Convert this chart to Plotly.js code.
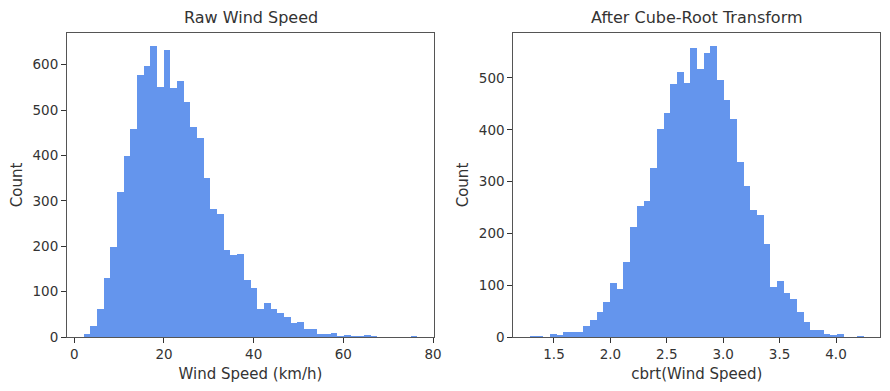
<!DOCTYPE html>
<html>
<head>
<meta charset="utf-8">
<script src="https://cdn.plot.ly/plotly-3.0.1.min.js"></script>
<style>html,body{margin:0;padding:0;background:#fff;}#chart{width:890px;height:391px;}</style>
</head>
<body>
<div id="chart"></div>
<script>
// Raw wind speed histogram (50 bins)
const rawBinStart = 2.09;
const rawBinWidth = 1.4882;
const rawCounts = [7, 25, 62, 130, 198, 319, 398, 458, 577, 596,
  640, 550, 632, 548, 563, 518, 462, 438, 350, 282,
  271, 191, 180, 183, 125, 108, 62, 75, 62, 53,
  44, 31, 33, 18, 18, 7, 7, 9, 2, 4,
  2, 2, 4, 2, 0, 0, 0, 0, 0, 2];

// Cube-root transformed histogram (50 bins)
const cbrtBinStart = 1.288;
const cbrtBinWidth = 0.05915;
const cbrtCounts = [2, 2, 0, 6, 4, 10, 10, 10, 21, 33,
  48, 67, 104, 93, 145, 212, 253, 262, 326, 401,
  432, 488, 511, 490, 557, 517, 548, 561, 496, 457,
  420, 337, 291, 245, 235, 179, 96, 108, 85, 73,
  48, 29, 13, 13, 6, 4, 6, 0, 0, 2];

const rawTicks = [0, 20, 40, 60, 80];
const cbrtTicks = [1.5, 2.0, 2.5, 3.0, 3.5, 4.0];
const rawYTicks = [0, 100, 200, 300, 400, 500, 600];
const cbrtYTicks = [0, 100, 200, 300, 400, 500];

function centers(start, width, n) {
  const c = [];
  for (let i = 0; i < n; i++) c.push(start + (i + 0.5) * width);
  return c;
}

const barColor = '#6495ED';
const traces = [
  {type: 'bar', x: centers(rawBinStart, rawBinWidth, rawCounts.length), y: rawCounts,
   width: rawBinWidth, marker: {color: barColor, line: {width: 0}}, xaxis: 'x', yaxis: 'y', hoverinfo: 'x+y'},
  {type: 'bar', x: centers(cbrtBinStart, cbrtBinWidth, cbrtCounts.length), y: cbrtCounts,
   width: cbrtBinWidth, marker: {color: barColor, line: {width: 0}}, xaxis: 'x2', yaxis: 'y2', hoverinfo: 'x+y'}
];

const txt = '#333333';
const spine = '#555555';
const font = 'DejaVu Sans, sans-serif';
function ax(extra) {
  return Object.assign({
    showline: true, mirror: true, linecolor: spine, linewidth: 1,
    ticks: 'outside', ticklen: 5, tickwidth: 1, tickcolor: '#333',
    showgrid: false, zeroline: false, tickfont: {family: font, size: 13.5, color: txt},
    tickmode: 'array', automargin: false
  }, extra);
}

const layout = {
  width: 890, height: 391,
  margin: {l: 0, r: 0, t: 0, b: 0},
  paper_bgcolor: '#fff', plot_bgcolor: '#fff',
  showlegend: false, bargap: 0,
  font: {family: font, color: txt},
  xaxis: ax({domain: [67/890, 434/890], range: [-1.63, 80.22], tickvals: rawTicks,
    ticktext: rawTicks.map(String), anchor: 'y',
    title: {text: 'Wind Speed (km/h)', font: {family: font, size: 15, color: txt}, standoff: 7}}),
  yaxis: ax({domain: [1 - 337/391, 1 - 33/391], range: [0, 669.7], tickvals: rawYTicks,
    ticktext: rawYTicks.map(String), anchor: 'x',
    title: {text: 'Count', font: {family: font, size: 15, color: txt}, standoff: 6}}),
  xaxis2: ax({domain: [513.33/890, 880.33/890], range: [1.1395, 4.393], tickvals: cbrtTicks,
    ticktext: cbrtTicks.map(v => v.toFixed(1)), anchor: 'y2',
    title: {text: 'cbrt(Wind Speed)', font: {family: font, size: 15, color: txt}, standoff: 7}}),
  yaxis2: ax({domain: [1 - 337/391, 1 - 33/391], range: [0, 586.8], tickvals: cbrtYTicks,
    ticktext: cbrtYTicks.map(String), anchor: 'x2',
    title: {text: 'Count', font: {family: font, size: 15, color: txt}, standoff: 6}}),
  annotations: [
    {text: 'Raw Wind Speed', xref: 'paper', yref: 'paper', x: (67 + 434) / 2 / 890, y: 1 - 17.5/391,
     xanchor: 'center', yanchor: 'middle', showarrow: false, font: {family: font, size: 16, color: txt}},
    {text: 'After Cube-Root Transform', xref: 'paper', yref: 'paper', x: (513.33 + 880.33) / 2 / 890, y: 1 - 17.5/391,
     xanchor: 'center', yanchor: 'middle', showarrow: false, font: {family: font, size: 16, color: txt}}
  ]
};

Plotly.newPlot('chart', traces, layout, {displayModeBar: false, staticPlot: true});
</script>
</body>
</html>
